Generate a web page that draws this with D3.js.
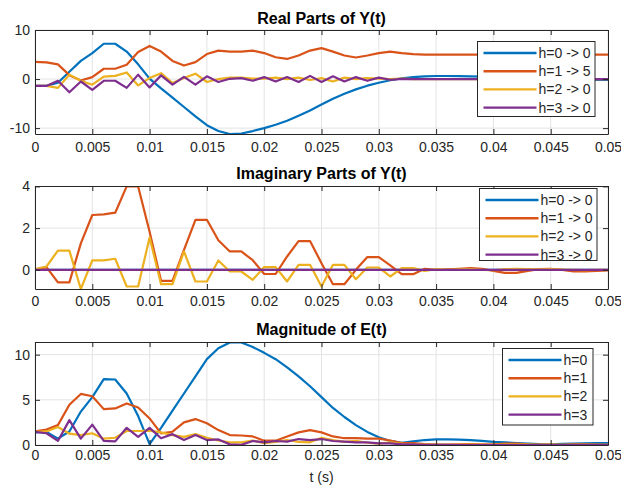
<html>
<head>
<meta charset="utf-8">
<style>
    body { margin: 0; background: white; }
    svg text { font-family: "Liberation Sans", Arial, sans-serif; fill: #262626; }
    .grid line { stroke: #e3e3e3; stroke-width: 1; }
    .axis path, .axis line { stroke: #262626; stroke-width: 1; }
    .axis text { font-size: 14px; }
    .title { font-size: 16px; font-weight: bold; fill: black; }
    .legend-text { font-size: 14px; }
</style>
</head>
<body>
<script src="https://cdn.jsdelivr.net/npm/d3@7"></script>
<script>
// time samples (s)
var tValues = [0, 0.001, 0.002, 0.003, 0.004, 0.005, 0.006, 0.007, 0.008, 0.009,
    0.010, 0.011, 0.012, 0.013, 0.014, 0.015, 0.016, 0.017, 0.018, 0.019,
    0.020, 0.021, 0.022, 0.023, 0.024, 0.025, 0.026, 0.027, 0.028, 0.029,
    0.030, 0.031, 0.032, 0.033, 0.034, 0.035, 0.036, 0.037, 0.038, 0.039,
    0.040, 0.041, 0.042, 0.043, 0.044, 0.045, 0.046, 0.047, 0.048, 0.049, 0.050];

var seriesNames = ["h=0", "h=1", "h=2", "h=3"];
var realLegend = ["h=0 -> 0", "h=1 -> 5", "h=2 -> 0", "h=3 -> 0"];
var imagLegend = ["h=0 -> 0", "h=1 -> 0", "h=2 -> 0", "h=3 -> 0"];
var colors = ["#0072BD", "#D95319", "#EDB120", "#7E2F8E"];

// real parts
var realH0 = [-1.4, -1.4, -0.75, 1.5, 3.7, 5.3, 7.2, 7.2, 5.6, 3.0,
    0.1, -1.9, -3.8, -5.7, -7.6, -9.4, -10.6, -11.2, -11.1, -10.6,
    -10.0, -9.3, -8.5, -7.5, -6.4, -5.2, -4.0, -3.0, -2.1, -1.35,
    -0.75, -0.25, 0.15, 0.4, 0.55, 0.62, 0.62, 0.6, 0.55, 0.48,
    0.4, 0.3, 0.2, 0.1, 0.02, -0.05, -0.1, -0.12, -0.15, -0.15, -0.15];
var realH1 = [3.5, 3.4, 3.0, 0.8, -0.3, 0.4, 2.1, 2.1, 2.9, 5.5,
    6.75, 5.6, 3.7, 2.75, 3.45, 5.1, 5.8, 5.6, 5.6, 5.8,
    5.3, 4.45, 4.1, 4.8, 5.8, 6.3, 5.6, 4.8, 4.4, 4.8,
    5.3, 5.6, 5.3, 5.1, 5.0, 5.0, 5.0, 5.0, 5.0, 5.0,
    5.0, 5.0, 5.0, 5.0, 5.0, 5.0, 5.0, 5.0, 5.0, 5.0, 5.0];
var realH2 = [-1.4, -1.4, -1.8, 0.9, -0.35, -1.15, 0.5, 0.65, 1.35, -1.3,
    0.2, 1.2, -0.8, 0.2, 1.1, -0.6, 0.0, 0.3, 0.3, 0.1,
    0.1, 0.3, 0.0, 0.3, -0.2, 0.2, -0.5, 0.3, 0.0, 0.2,
    0.1, 0.0, 0.1, 0.0, 0.0, 0.0, 0.0, 0.0, 0.0, 0.0,
    0.0, 0.0, 0.0, 0.0, 0.0, 0.0, 0.0, 0.0, 0.0, 0.0, 0.0];
var realH3 = [-1.4, -1.4, -0.35, -2.7, -0.5, -2.2, -0.35, -0.35, -1.8, 0.9,
    -1.7, 0.75, -1.15, 0.45, -1.15, 0.55, -0.6, 0.05, 0.2, -0.35,
    0.4, -0.5, 0.4, -0.6, 0.65, -0.6, 0.55, -0.5, 0.4, -0.35,
    0.3, -0.15, 0.05, 0.0, 0.0, 0.0, 0.0, 0.0, 0.0, 0.0,
    0.0, 0.0, 0.0, 0.0, 0.0, 0.0, 0.0, 0.0, 0.0, 0.0, 0.0];

// imaginary parts
var imagH0 = [0, 0, 0, 0, 0, 0, 0, 0, 0, 0, 0, 0, 0, 0, 0, 0, 0, 0, 0, 0, 0, 0, 0, 0, 0,
    0, 0, 0, 0, 0, 0, 0, 0, 0, 0, 0, 0, 0, 0, 0, 0, 0, 0, 0, 0, 0, 0, 0, 0, 0, 0];
var imagH1 = [0, 0.13, -0.6, -0.6, 1.27, 2.63, 2.66, 2.74, 4.0, 4.0,
    1.83, -0.53, -0.53, 0.96, 2.4, 2.4, 1.42, 0.88, 0.88, 0.46,
    -0.2, -0.2, 0.64, 1.38, 1.38, 0.32, -0.69, -0.69, 0.0, 0.61,
    0.61, 0.21, -0.21, -0.21, 0.05, 0.0, 0.02, 0.05, 0.08, 0.05,
    -0.05, -0.15, -0.15, -0.05, 0.03, 0.05, 0.0, -0.08, -0.08, -0.05, -0.03];
var imagH2 = [0.03, 0.16, 0.92, 0.92, -0.92, 0.45, 0.45, 0.53, -0.8, -0.8,
    1.55, -0.69, -0.69, 0.88, -0.56, -0.56, 0.45, -0.08, -0.08, -0.48,
    0.13, 0.13, -0.56, 0.24, 0.24, -0.8, 0.24, 0.24, -0.45, 0.11,
    0.11, -0.32, 0.08, 0.08, -0.05, 0.03, 0.0, 0.02, 0.04, 0.0,
    -0.02, 0.03, 0.05, 0.04, 0.02, 0.03, 0.01, 0.0, -0.01, 0.0, 0.0];
var imagH3 = [0, 0, 0, 0, 0, 0, 0, 0, 0, 0, 0, 0, 0, 0, 0, 0, 0, 0, 0, 0, 0, 0, 0, 0, 0,
    0, 0, 0, 0, 0, 0, 0, 0, 0, 0, 0, 0, 0, 0, 0, 0, 0, 0, 0, 0, 0, 0, 0, 0, 0, 0];

// error magnitudes
var magH0 = [1.4, 1.45, 0.7, 1.5, 3.7, 5.3, 7.3, 7.25, 5.7, 3.2,
    0.1, 1.9, 3.8, 5.7, 7.6, 9.5, 10.7, 11.35, 11.35, 10.85,
    10.2, 9.5, 8.6, 7.6, 6.5, 5.3, 4.1, 3.1, 2.2, 1.45,
    0.85, 0.45, 0.25, 0.4, 0.55, 0.62, 0.62, 0.6, 0.55, 0.45,
    0.35, 0.3, 0.22, 0.15, 0.1, 0.08, 0.12, 0.15, 0.18, 0.2, 0.2];
var magH1 = [1.5, 1.7, 2.2, 4.45, 5.65, 5.4, 3.97, 4.05, 4.6, 4.15,
    2.94, 1.28, 1.47, 2.5, 2.87, 2.4, 1.65, 1.1, 1.05, 0.95,
    0.48, 0.48, 0.95, 1.4, 1.65, 1.4, 0.95, 0.75, 0.75, 0.7,
    0.7, 0.5, 0.2, 0.2, 0.1, 0.05, 0.05, 0.08, 0.1, 0.08,
    0.06, 0.15, 0.15, 0.06, 0.04, 0.05, 0.02, 0.08, 0.08, 0.05, 0.03];
var magH2 = [1.45, 1.5, 2.0, 1.25, 1.1, 1.3, 0.7, 0.8, 1.55, 1.55,
    1.6, 1.4, 1.1, 0.9, 1.2, 0.8, 0.5, 0.3, 0.3, 0.5,
    0.2, 0.35, 0.55, 0.35, 0.3, 0.8, 0.55, 0.35, 0.45, 0.25,
    0.15, 0.3, 0.12, 0.1, 0.05, 0.04, 0.02, 0.03, 0.05, 0.02,
    0.03, 0.04, 0.05, 0.05, 0.03, 0.04, 0.02, 0.01, 0.02, 0.01, 0.01];
var magH3 = [1.45, 1.3, 0.45, 2.75, 0.7, 2.25, 0.45, 0.4, 1.9, 0.9,
    1.9, 0.75, 1.2, 0.55, 1.1, 0.55, 0.62, 0.07, 0.02, 0.44,
    0.3, 0.44, 0.37, 0.66, 0.55, 0.66, 0.44, 0.37, 0.3, 0.3,
    0.18, 0.18, 0.07, 0.07, 0.03, 0.02, 0.01, 0.0, 0.0, 0.0,
    0.0, 0.0, 0.0, 0.0, 0.0, 0.0, 0.0, 0.0, 0.0, 0.0, 0.0];

var xTicks = [0, 0.005, 0.01, 0.015, 0.02, 0.025, 0.03, 0.035, 0.04, 0.045, 0.05];
var xTickLabels = ["0", "0.005", "0.01", "0.015", "0.02", "0.025", "0.03", "0.035", "0.04", "0.045", "0.05"];
var realTicks = [-10, 0, 10];
var realTickLabels = ["-10", "0", "10"];
var imagTicks = [0, 2, 4];
var imagTickLabels = ["0", "2", "4"];
var magTicks = [0, 5, 10];
var magTickLabels = ["0", "5", "10"];

var width = 621, height = 487;
var left = 35, right = 608;

var svg = d3.select("body").append("svg")
        .attr("width", width)
        .attr("height", height);

var x = d3.scaleLinear().domain([0, 0.05]).range([left, right]);

function drawPanel(p, idx) {
    var y = d3.scaleLinear().domain(p.ylim).range([p.bottom, p.top]);
    var g = svg.append("g");

    g.append("clipPath").attr("id", "clip" + idx)
        .append("rect")
        .attr("x", left).attr("y", p.top)
        .attr("width", right - left).attr("height", p.bottom - p.top);

    // grid
    var grid = g.append("g").classed("grid", 1);
    grid.selectAll(".gx").data(xTicks).enter().append("line")
        .attr("x1", function (d) { return x(d); })
        .attr("x2", function (d) { return x(d); })
        .attr("y1", p.top).attr("y2", p.bottom);
    grid.selectAll(".gy").data(p.ticks).enter().append("line")
        .attr("x1", left).attr("x2", right)
        .attr("y1", function (d) { return y(d); })
        .attr("y2", function (d) { return y(d); });

    // lines
    var line = d3.line()
        .x(function (d, i) { return x(tValues[i]); })
        .y(function (d) { return y(d); });

    g.append("g").attr("clip-path", "url(#clip" + idx + ")")
        .selectAll("path")
        .data(p.series)
        .enter().append("path")
        .attr("d", function (d) { return line(d); })
        .attr("fill", "none")
        .attr("stroke", function (d, i) { return colors[i]; })
        .attr("stroke-width", 2.2)
        .attr("stroke-linejoin", "round");

    // axes (MATLAB box with inward ticks)
    g.append("g").classed("axis", 1)
        .attr("transform", "translate(0," + p.bottom + ")")
        .call(d3.axisBottom(x).tickValues(xTicks)
            .tickFormat(function (d, i) { return xTickLabels[i]; })
            .tickSize(-5).tickSizeOuter(0).tickPadding(p.xpad));
    g.append("g").classed("axis", 1)
        .attr("transform", "translate(0," + p.top + ")")
        .call(d3.axisTop(x).tickValues(xTicks).tickFormat("")
            .tickSize(-5).tickSizeOuter(0));
    g.append("g").classed("axis", 1)
        .attr("transform", "translate(" + left + ",0)")
        .call(d3.axisLeft(y).tickValues(p.ticks)
            .tickFormat(function (d, i) { return p.tickLabels[i]; })
            .tickSize(-5).tickSizeOuter(0).tickPadding(5));
    g.append("g").classed("axis", 1)
        .attr("transform", "translate(" + right + ",0)")
        .call(d3.axisRight(y).tickValues(p.ticks).tickFormat("")
            .tickSize(-5).tickSizeOuter(0));

    g.selectAll(".axis text").style("fill", "#262626");

    // title
    g.append("text").classed("title", 1)
        .attr("x", (left + right) / 2)
        .attr("y", p.titleY)
        .attr("text-anchor", "middle")
        .text(p.title);

    // legend
    var lg = g.append("g");
    lg.append("rect")
        .attr("x", p.legend.x).attr("y", p.legend.y)
        .attr("width", p.legend.w).attr("height", p.legend.h)
        .attr("fill", "white")
        .attr("stroke", "#262626")
        .attr("stroke-width", 1);
    var items = lg.selectAll(".item").data(p.labels).enter().append("g");
    items.append("line")
        .attr("x1", p.legend.x + 6)
        .attr("x2", p.legend.x + 59)
        .attr("y1", function (d, i) { return p.legend.y + 11.5 + i * 18.2; })
        .attr("y2", function (d, i) { return p.legend.y + 11.5 + i * 18.2; })
        .attr("stroke", function (d, i) { return colors[i]; })
        .attr("stroke-width", 2.4);
    items.append("text").classed("legend-text", 1)
        .attr("x", p.legend.x + 61)
        .attr("y", function (d, i) { return p.legend.y + 11.5 + i * 18.2; })
        .attr("dy", "0.36em")
        .text(function (d) { return d; });
}

var panels = [
    {
        title: "Real Parts of Y(t)", titleY: 24,
        top: 30, bottom: 134, ylim: [-11.2, 10], ticks: realTicks, tickLabels: realTickLabels, xpad: 8,
        series: [realH0, realH1, realH2, realH3], labels: realLegend,
        legend: {x: 477.5, y: 41.5, w: 117.5, h: 75}
    },
    {
        title: "Imaginary Parts of Y(t)", titleY: 179,
        top: 186, bottom: 289, ylim: [-0.92, 4.02], ticks: imagTicks, tickLabels: imagTickLabels, xpad: 7,
        series: [imagH0, imagH1, imagH2, imagH3], labels: imagLegend,
        legend: {x: 479.5, y: 188.5, w: 117.5, h: 72}
    },
    {
        title: "Magnitude of E(t)", titleY: 335,
        top: 342, bottom: 445, ylim: [0, 11.4], ticks: magTicks, tickLabels: magTickLabels, xpad: 5,
        series: [magH0, magH1, magH2, magH3], labels: seriesNames,
        legend: {x: 502.5, y: 348.5, w: 90.5, h: 76.5}
    }
];

panels.forEach(function (p, i) { drawPanel(p, i); });

svg.append("text")
    .attr("x", (left + right) / 2)
    .attr("y", 482)
    .attr("text-anchor", "middle")
    .style("font-size", "14px")
    .text("t (s)");
</script>
</body>
</html>
